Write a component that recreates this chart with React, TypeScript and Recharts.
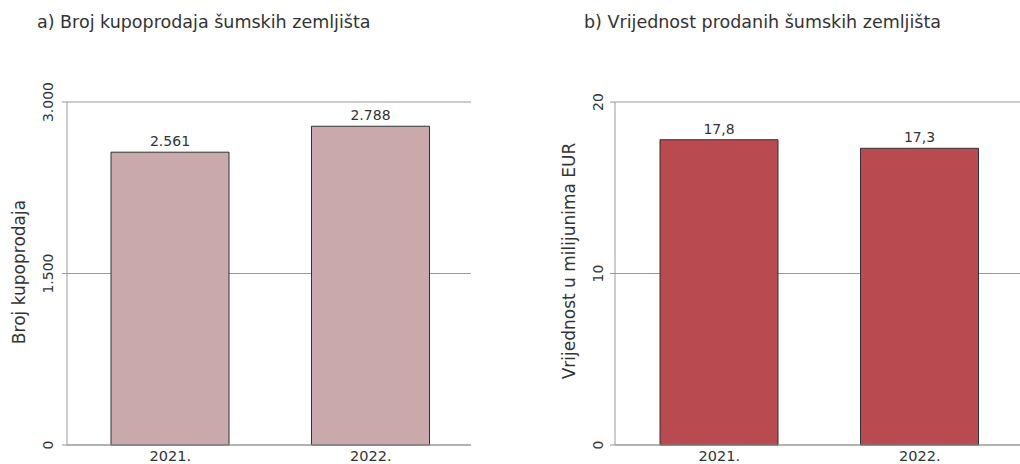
import React from 'react';
import { BarChart, Bar, XAxis, YAxis, CartesianGrid, LabelList } from 'recharts';

const years = ['2021.', '2022.'];
const salesCount = [2561, 2788];
const salesValue = [17.8, 17.3];
const countTicks = [0, 1500, 3000];
const valueTicks = [0, 10, 20];

const countData = years.map((year, i) => ({ year, value: salesCount[i] }));
const valueData = years.map((year, i) => ({ year, value: salesValue[i] }));

const FONT = '"DejaVu Sans", Verdana, sans-serif';
const TEXT = '#333';
const AXIS = '#999';

const fmtCount = (v: number) => v.toLocaleString('de-DE');
const fmtValue = (v: number) => String(v).replace('.', ',');

const RotatedTick = (props: any) => {
  const { x, y, payload, fmt } = props;
  return (
    <text
      transform={`translate(${x},${y}) rotate(-90)`}
      textAnchor="middle"
      fontSize={14}
      fontFamily={FONT}
      fill={TEXT}
    >
      {fmt(payload.value)}
    </text>
  );
};

const axisLabel = (text: string, dx: number, cy: number) => (props: any) => {
  const { viewBox } = props;
  return (
    <text
      transform={`translate(${viewBox.x + dx},${cy}) rotate(-90)`}
      textAnchor="middle"
      fontSize={17}
      fontFamily={FONT}
      fill={TEXT}
    >
      {text}
    </text>
  );
};

interface PanelProps {
  title: string;
  data: { year: string; value: number }[];
  ticks: number[];
  fmt: (v: number) => string;
  fill: string;
  axisWidth: number;
  tickMargin: number;
  label: string;
  labelX: number;
  labelY: number;
  titleX: number;
  padLeft: number;
  marginRight: number;
}

const Panel: React.FC<PanelProps> = (p) => (
  <div style={{ position: 'relative', width: 510, height: 464 }}>
    <div
      style={{
        position: 'absolute',
        left: p.titleX,
        top: 12,
        fontFamily: FONT,
        fontSize: 17.5,
        color: TEXT,
        whiteSpace: 'nowrap',
      }}
    >
      {p.title}
    </div>
    <BarChart
      width={510}
      height={464}
      data={p.data}
      margin={{ top: 102, right: p.marginRight, bottom: 0, left: 0 }}
      barCategoryGap={0}
    >
      <CartesianGrid vertical={false} stroke={AXIS} strokeWidth={1} />
      <XAxis
        dataKey="year"
        tickLine={false}
        axisLine={{ stroke: AXIS }}
        tick={{ fontSize: 14.5, fontFamily: FONT, fill: TEXT }}
        tickMargin={0}
        padding={{ left: p.padLeft, right: 0 }}
        height={19}
      />
      <YAxis
        width={p.axisWidth}
        domain={[p.ticks[0], p.ticks[p.ticks.length - 1]]}
        ticks={p.ticks}
        interval={0}
        tickSize={5}
        tickMargin={p.tickMargin}
        tickLine={{ stroke: AXIS }}
        axisLine={{ stroke: AXIS }}
        tick={<RotatedTick fmt={p.fmt} />}
        label={{ content: axisLabel(p.label, p.labelX, p.labelY) }}
      />
      <Bar dataKey="value" fill={p.fill} stroke="#333" strokeWidth={1} barSize={118} isAnimationActive={false}>
        <LabelList
          dataKey="value"
          position="top"
          offset={6}
          formatter={(v: any) => p.fmt(Number(v))}
          style={{ fontSize: 14, fontFamily: FONT, fill: TEXT }}
        />
      </Bar>
    </BarChart>
  </div>
);

export default function App() {
  return (
    <div style={{ position: 'absolute', left: 0, top: 0, width: 1020, height: 464, display: 'flex', background: '#fff' }}>
      <Panel
        title="a) Broj kupoprodaja šumskih zemljišta"
        data={countData}
        ticks={countTicks}
        fmt={fmtCount}
        fill="#C9A9AC"
        axisWidth={67}
        tickMargin={9}
        label="Broj kupoprodaja"
        labelX={25}
        labelY={272}
        titleX={37}
        padLeft={3}
        marginRight={39}
      />
      <Panel
        title="b) Vrijednost prodanih šumskih zemljišta"
        data={valueData}
        ticks={valueTicks}
        fmt={fmtValue}
        fill="#B94A50"
        axisWidth={105}
        tickMargin={7}
        label="Vrijednost u milijunima EUR"
        labelX={65}
        labelY={261}
        titleX={74}
        padLeft={4}
        marginRight={0}
      />
    </div>
  );
}
